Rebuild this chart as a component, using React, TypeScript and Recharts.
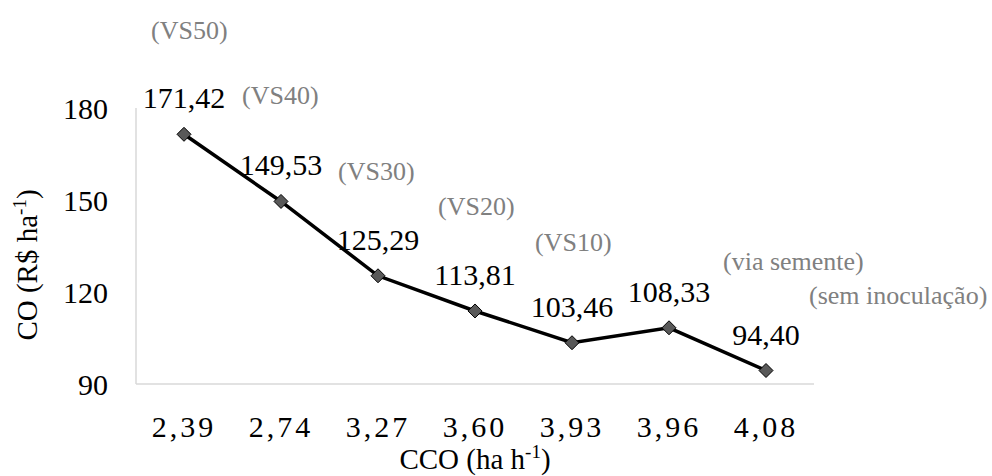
import React from "react";
import { LineChart, Line, XAxis, YAxis, LabelList, Label } from "recharts";

const capacidade = ["2,39", "2,74", "3,27", "3,60", "3,93", "3,96", "4,08"];
const custo = [171.42, 149.53, 125.29, 113.81, 103.46, 108.33, 94.4];
const tratamento = ["(VS50)", "(VS40)", "(VS30)", "(VS20)", "(VS10)", "(via semente)", "(sem inoculação)"];
const yTicks = [90, 120, 150, 180];

const data = capacidade.map((c, i) => ({ cco: c, co: custo[i], trat: tratamento[i] }));

// placement of the grey treatment notes relative to each point: [dx, baseline dy]
const noteOffset = [
  [-33, -95],
  [-39, -97],
  [-40, -96],
  [-37, -96],
  [-37, -92],
  [54, -58],
  [43, -67],
];

const FONT = "Liberation Serif";
const fontCss = `.chart-serif text, .chart-serif tspan { font-family: "Liberation Serif", serif !important; }`;

const fmt = (v: number) => v.toFixed(2).replace(".", ",");

const Diamond = (props: any) => {
  const { cx, cy } = props;
  if (cx == null || cy == null) return null;
  const r = 7;
  return (
    <polygon
      points={`${cx},${cy - r} ${cx + r},${cy} ${cx},${cy + r} ${cx - r},${cy}`}
      fill="#595959"
      stroke="#000"
      strokeWidth={1}
    />
  );
};

const ValueLabel = (props: any) => {
  const { x, y, value } = props;
  return (
    <text x={x} y={y - 26} textAnchor="middle" fontFamily={FONT} fontSize={30} fill="#000">
      {fmt(value)}
    </text>
  );
};

const NoteLabel = (props: any) => {
  const { x, y, value, index } = props;
  const [dx, dy] = noteOffset[index] || [0, 0];
  return (
    <text x={x + dx} y={y + dy} textAnchor="start" fontFamily={FONT} fontSize={26} fill="#808080">
      {value}
    </text>
  );
};

const YTitle = (props: any) => {
  const vb = props.viewBox || { x: 0, y: 108, height: 276 };
  const cx = vb.x + 37;
  const cy = vb.y + vb.height / 2 + 19;
  return (
    <text
      x={cx}
      y={cy}
      transform={`rotate(-90 ${cx} ${cy})`}
      textAnchor="middle"
      fontFamily={FONT}
      fontSize={29}
      fill="#000"
    >
      CO (R$ ha
      <tspan dy={-11} fontSize={19}>-1</tspan>
      <tspan dy={11}>)</tspan>
    </text>
  );
};

const XTitle = (props: any) => {
  const vb = props.viewBox || { x: 136, y: 384, width: 678 };
  const cx = vb.x + vb.width / 2;
  const cy = vb.y + 85;
  return (
    <text x={cx} y={cy} textAnchor="middle" fontFamily={FONT} fontSize={29} fill="#000">
      CCO (ha h
      <tspan dy={-11} fontSize={19}>-1</tspan>
      <tspan dy={11}>)</tspan>
    </text>
  );
};

export default function App() {
  return (
    <div className="chart-serif" style={{ position: "absolute", left: 0, top: 0, width: 992, height: 476, fontFamily: FONT }}>
      <style>{fontCss}</style>
      <LineChart width={992} height={476} data={data} margin={{ top: 108, right: 178, bottom: 0, left: 0 }}>
        <XAxis
          dataKey="cco"
          height={92}
          padding={{ left: 48, right: 48 }}
          axisLine={{ stroke: "#d9d9d9", strokeWidth: 1.5 }}
          tickLine={false}
          tickSize={0}
          tickMargin={32}
          tick={{ fontFamily: FONT, fontSize: 30, fill: "#000", letterSpacing: 3 }}
        >
          <Label content={<XTitle />} />
        </XAxis>
        <YAxis
          width={136}
          domain={[90, 180]}
          ticks={yTicks}
          axisLine={{ stroke: "#d9d9d9", strokeWidth: 1.5 }}
          tickLine={false}
          tickSize={0}
          tickMargin={28}
          tick={{ fontFamily: FONT, fontSize: 30, fill: "#000" }}
        >
          <Label content={<YTitle />} />
        </YAxis>
        <Line
          type="linear"
          dataKey="co"
          stroke="#000"
          strokeWidth={3.5}
          dot={<Diamond />}
          activeDot={false}
          isAnimationActive={false}
        >
          <LabelList dataKey="co" content={<ValueLabel />} />
          <LabelList dataKey="trat" content={<NoteLabel />} />
        </Line>
      </LineChart>
    </div>
  );
}
